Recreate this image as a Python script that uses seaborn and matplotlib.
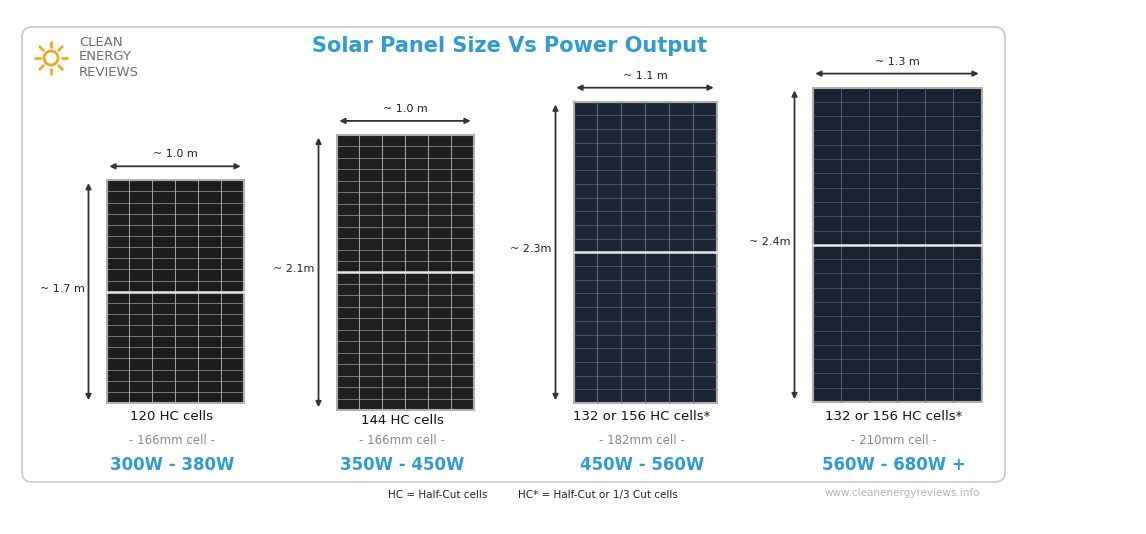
import matplotlib
matplotlib.use("Agg")
import matplotlib.pyplot as plt
from matplotlib.patches import FancyBboxPatch, Rectangle, Circle
import numpy as np
import seaborn as sns

# panel data
widths_m = [1.0, 1.0, 1.1, 1.3]
heights_m = [1.7, 2.1, 2.3, 2.4]
width_labels = ["~ 1.0 m", "~ 1.0 m", "~ 1.1 m", "~ 1.3 m"]
height_labels = ["~ 1.7 m", "~ 2.1m", "~ 2.3m", "~ 2.4m"]
cell_counts = ["120 HC cells", "144 HC cells", "132 or 156 HC cells*", "132 or 156 HC cells*"]
cell_sizes = ["- 166mm cell -", "- 166mm cell -", "- 182mm cell -", "- 210mm cell -"]
power_ranges = ["300W - 380W", "350W - 450W", "450W - 560W", "560W - 680W +"]
cell_rows = [20, 24, 22, 22]
cell_cols = [6, 6, 6, 6]

sns.set_theme(style="white")
BLUE = "#2f9bd3"
fig = plt.figure(figsize=(11.46, 5.34), dpi=100)
ax = fig.add_axes([0, 0, 1, 1])
ax.set_xlim(0, 1146)
ax.set_ylim(534, 0)
ax.axis("off")

ax.add_patch(FancyBboxPatch((22, 27), 983, 455, boxstyle="round,pad=0,rounding_size=10",
                            fc="white", ec="#c8c8c8", lw=1.2))
ax.text(510, 46, "Solar Panel Size Vs Power Output", color=BLUE, fontsize=15,
        fontweight="bold", ha="center", va="center")

# logo
ax.add_patch(Circle((51, 58), 7, fc="white", ec="#f5a623", lw=2))
for a in np.linspace(0, 2 * np.pi, 9)[:-1]:
    ax.plot([51 + 11 * np.cos(a), 51 + 16 * np.cos(a)], [58 + 11 * np.sin(a), 58 + 16 * np.sin(a)],
            color="#f5a623", lw=2, solid_capstyle="round")
for i, w in enumerate(["CLEAN", "ENERGY", "REVIEWS"]):
    ax.text(79, 42 + i * 15, w, color="#6d6d6d", fontsize=9.5, va="center")

scale = 131
centers = [175, 405, 645, 897]
bottoms = [403, 410, 403, 402]
face = ["#1d1d1d", "#1f1f1f", "#1c2535", "#1a2231"]
grid = ["#bdbdbd", "#bdbdbd", "#6d7a8e", "#5f6b7e"]

for i in range(4):
    w = widths_m[i] * (137 if i < 2 else 130)
    h = heights_m[i] * scale
    x0 = centers[i] - w / 2
    y0 = bottoms[i] - h
    ax.add_patch(Rectangle((x0, y0), w, h, fc=face[i], ec="#b0b0b0", lw=1.5))
    for c in range(1, cell_cols[i]):
        ax.plot([x0 + w * c / cell_cols[i]] * 2, [y0, y0 + h], color=grid[i], lw=0.6)
    for r in range(1, cell_rows[i]):
        ax.plot([x0, x0 + w], [y0 + h * r / cell_rows[i]] * 2, color=grid[i], lw=0.4)
    ax.plot([x0, x0 + w], [y0 + h / 2] * 2, color="#e8e8e8", lw=1.8)
    # width arrow
    ay = y0 - 14
    ax.annotate("", xy=(x0, ay), xytext=(x0 + w, ay),
                arrowprops=dict(arrowstyle="<|-|>", color="#333333", lw=1.3, mutation_scale=8))
    ax.text(centers[i], ay - 12, width_labels[i], fontsize=8, ha="center", va="center", color="#222222")
    # height arrow
    hx = x0 - 18
    ax.annotate("", xy=(hx, y0), xytext=(hx, y0 + h),
                arrowprops=dict(arrowstyle="<|-|>", color="#333333", lw=1.3, mutation_scale=8))
    ax.text(hx - 4, y0 + h / 2 - 3, height_labels[i], fontsize=8, ha="right", va="center", color="#222222")
    ty = 417 if i != 1 else 420
    ax.text(centers[i] - 3, ty, cell_counts[i], fontsize=9.5, ha="center", va="center", color="#111111")
    ax.text(centers[i] - 3, 440, cell_sizes[i], fontsize=8.5, ha="center", va="center", color="#8a8a8a")
    ax.text(centers[i] - 3, 465, power_ranges[i], fontsize=12, ha="center", va="center",
            color=BLUE, fontweight="bold")

ax.text(438, 495, "HC = Half-Cut cells", fontsize=7.5, ha="center", va="center", color="#222222")
ax.text(598, 495, "HC* = Half-Cut or 1/3 Cut cells", fontsize=7.5, ha="center", va="center", color="#222222")
ax.text(902, 493, "www.cleanenergyreviews.info", fontsize=7.5, ha="center", va="center", color="#b5b5b5")

fig.savefig("out.png", dpi=100)
